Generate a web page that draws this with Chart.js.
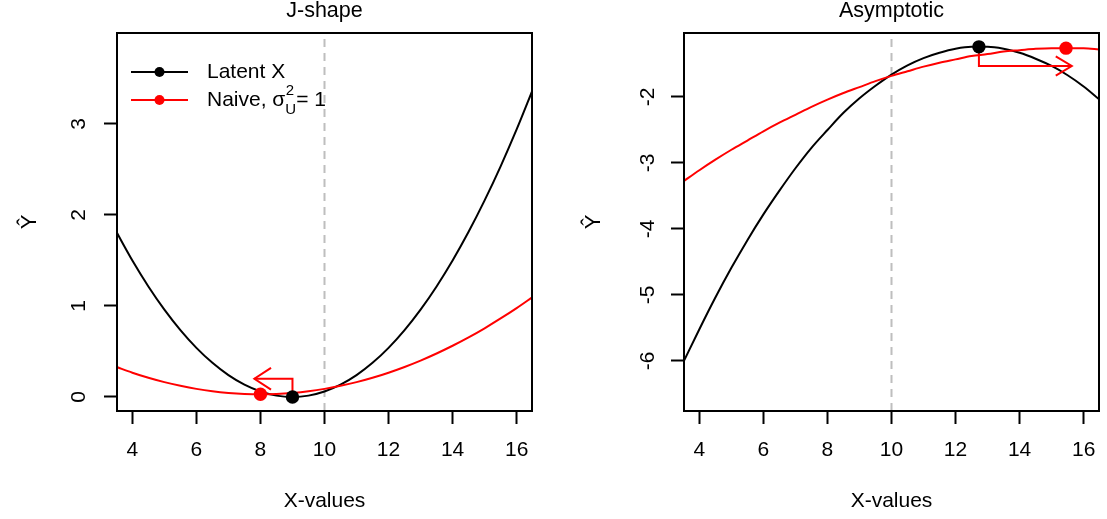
<!DOCTYPE html>
<html>
<head>
<meta charset="utf-8">
<script src="https://cdn.jsdelivr.net/npm/chart.js@4.4.1/dist/chart.umd.min.js"></script>
<style>
  html, body { margin: 0; padding: 0; background: #fff; }
  #wrap { position: relative; width: 1107px; height: 519px; }
  canvas { position: absolute; top: 0; }
  #left { left: 0; }
  #right { left: 553px; }
</style>
</head>
<body>
<div id="wrap">
  <canvas id="left" width="553" height="519"></canvas>
  <canvas id="right" width="554" height="519"></canvas>
</div>
<script>
// ---- shared x axis ----
const xGrid = [3.5, 4, 4.5, 5, 5.5, 6, 6.5, 7, 7.5, 8, 8.5, 9, 9.5, 10, 10.5, 11, 11.5, 12, 12.5, 13, 13.5, 14, 14.5, 15, 15.5, 16, 16.5];
const xTicks = [4, 6, 8, 10, 12, 14, 16];
const xRange = [3.52, 16.48];
const refX = 10;

// ---- J-shape panel ----
const jLatent = [1.815, 1.5, 1.215, 0.96, 0.735, 0.54, 0.375, 0.24, 0.135, 0.06, 0.015, 0, 0.015, 0.06, 0.135, 0.24, 0.375, 0.54, 0.735, 0.96, 1.215, 1.5, 1.815, 2.16, 2.535, 2.94, 3.375];
const jNaive = [0.33, 0.267, 0.211, 0.163, 0.123, 0.089, 0.063, 0.045, 0.034, 0.03, 0.034, 0.045, 0.063, 0.089, 0.123, 0.163, 0.211, 0.267, 0.33, 0.40, 0.478, 0.563, 0.655, 0.755, 0.863, 0.977, 1.099];
const jYTicks = [0, 1, 2, 3];
const jYRange = [-0.154, 4.0];
const jLatentMin = { x: 9, y: 0 };
const jNaiveMin = { x: 8, y: 0.03 };
const jShiftX = [9, 9, 7.81];
const jShiftY = [0, 0.2, 0.2];
const jHeadX = [8.33, 7.81, 8.33];
const jHeadY = [0.32, 0.2, 0.08];

// ---- Asymptotic panel ----
const aLatent = [-6.02, -5.52, -5.04, -4.59, -4.17, -3.78, -3.42, -3.08, -2.77, -2.50, -2.24, -2.02, -1.83, -1.66, -1.52, -1.41, -1.33, -1.27, -1.24, -1.24, -1.27, -1.33, -1.42, -1.53, -1.67, -1.84, -2.04];
const aNaive = [-3.28, -3.11, -2.95, -2.80, -2.66, -2.52, -2.39, -2.27, -2.15, -2.04, -1.94, -1.85, -1.76, -1.68, -1.61, -1.54, -1.48, -1.43, -1.38, -1.35, -1.31, -1.29, -1.27, -1.26, -1.26, -1.26, -1.28];
const aYTicks = [-6, -5, -4, -3, -2];
const aYRange = [-6.76, -1.03];
const aLatentMax = { x: 12.73, y: -1.24 };
const aNaiveMax = { x: 15.45, y: -1.26 };
const aShiftX = [12.73, 12.73, 15.63];
const aShiftY = [-1.24, -1.53, -1.53];
const aHeadX = [15.13, 15.63, 15.13];
const aHeadY = [-1.383, -1.53, -1.677];

const FONT = '"Liberation Sans", Arial, Helvetica, sans-serif';
Chart.defaults.font.family = FONT;
Chart.defaults.color = '#000';

const zip = (xs, ys) => xs.map((x, i) => ({ x: x, y: ys[i] }));

// plot frame around the chart area
const frame = {
  id: 'frame',
  afterDatasetsDraw(chart) {
    const a = chart.chartArea, ctx = chart.ctx;
    ctx.save();
    ctx.strokeStyle = '#000';
    ctx.lineWidth = 2;
    ctx.strokeRect(a.left, a.top, a.right - a.left, a.bottom - a.top);
    ctx.restore();
  }
};

// key in the upper-left corner of the J-shape panel
const keyBox = {
  id: 'keyBox',
  afterDatasetsDraw(chart) {
    const a = chart.chartArea, ctx = chart.ctx;
    const x0 = a.left + 14, x1 = a.left + 71, xm = a.left + 42.5, tx = a.left + 90;
    const rows = [{ y: a.top + 39, c: '#000' }, { y: a.top + 67, c: '#ff0000' }];
    ctx.save();
    rows.forEach(r => {
      ctx.strokeStyle = r.c;
      ctx.lineWidth = 2;
      ctx.beginPath(); ctx.moveTo(x0, r.y); ctx.lineTo(x1, r.y); ctx.stroke();
      ctx.fillStyle = r.c;
      ctx.beginPath(); ctx.arc(xm, r.y, 5, 0, Math.PI * 2); ctx.fill();
    });
    ctx.fillStyle = '#000';
    ctx.textBaseline = 'middle';
    ctx.textAlign = 'left';
    ctx.font = '21px ' + FONT;
    ctx.fillText('Latent X', tx, rows[0].y);
    const y = rows[1].y;
    const head = 'Naive, \u03C3';
    ctx.fillText(head, tx, y);
    let x = tx + ctx.measureText(head).width;
    ctx.font = '15px ' + FONT;
    ctx.fillText('2', x + 0.5, y - 9);
    ctx.fillText('U', x, y + 10);
    x += ctx.measureText('U').width;
    ctx.font = '21px ' + FONT;
    ctx.fillText('= 1', x, y);
    ctx.restore();
  }
};

function panel(id, o) {
  const tickGrid = {
    drawOnChartArea: false, drawTicks: true,
    tickLength: 13, tickWidth: 2, tickColor: '#000'
  };
  return new Chart(document.getElementById(id), {
    type: 'line',
    data: {
      datasets: [
        { data: [o.latentPt], showLine: false, pointRadius: 6.7, pointBackgroundColor: '#000', pointBorderWidth: 0 },
        { data: [o.naivePt], showLine: false, pointRadius: 6.7, pointBackgroundColor: '#ff0000', pointBorderWidth: 0 },
        { data: zip(o.headX, o.headY), borderColor: '#ff0000', borderWidth: 2, pointRadius: 0, tension: 0 },
        { data: zip(o.shiftX, o.shiftY), borderColor: '#ff0000', borderWidth: 2, pointRadius: 0, tension: 0 },
        { data: zip(xGrid, o.naive), borderColor: '#ff0000', borderWidth: 2, pointRadius: 0, cubicInterpolationMode: 'monotone' },
        { data: zip(xGrid, o.latent), borderColor: '#000', borderWidth: 2, pointRadius: 0, cubicInterpolationMode: 'monotone' },
        { data: [{ x: refX, y: o.yRange[0] }, { x: refX, y: o.yRange[1] }], borderColor: '#bebebe', borderWidth: 2, borderDash: [8, 6], pointRadius: 0 }
      ]
    },
    options: {
      responsive: false,
      animation: false,
      devicePixelRatio: 1,
      layout: { padding: { left: 0, right: o.padRight, top: 0, bottom: 0 } },
      plugins: {
        legend: { display: false },
        tooltip: { enabled: false }
      },
      scales: {
        // top axis only carries the panel heading, centred over the plot region
        top: {
          type: 'linear', axis: 'x', position: 'top', min: xRange[0], max: xRange[1],
          afterFit: s => { s.height = 33; s.paddingLeft = 0; s.paddingRight = 0; },
          ticks: { display: false },
          grid: { display: false },
          border: { display: false },
          title: { display: true, text: o.title, color: '#000', font: { size: 21.5, lineHeight: 1 }, padding: { top: 0.5, bottom: 0 } }
        },
        x: {
          type: 'linear', min: xRange[0], max: xRange[1],
          afterBuildTicks: s => { s.ticks = xTicks.map(v => ({ value: v })); },
          afterFit: s => { s.height = 108; s.paddingLeft = 0; s.paddingRight = 0; },
          ticks: { color: '#000', font: { size: 21 }, padding: 13.7, maxRotation: 0, autoSkip: false, callback: v => String(v) },
          grid: tickGrid,
          border: { display: false },
          title: { display: true, text: 'X-values', color: '#000', font: { size: 21 }, padding: { top: 0, bottom: 4.9 } }
        },
        y: {
          type: 'linear', min: o.yRange[0], max: o.yRange[1],
          afterBuildTicks: s => { s.ticks = o.yTicks.map(v => ({ value: v })); },
          afterFit: s => { s.width = o.yWidth; s.paddingTop = 0; s.paddingBottom = 0; },
          ticks: { color: '#000', font: { size: 21 }, padding: o.yTickPad, minRotation: 90, maxRotation: 90, crossAlign: 'center', autoSkip: false, callback: v => String(v) },
          grid: tickGrid,
          border: { display: false },
          title: { display: true, text: '\u0176', color: '#000', font: { size: 22 }, padding: { top: o.yTitlePad, bottom: 0 } }
        }
      }
    },
    plugins: o.plugins
  });
}

panel('left', {
  title: 'J-shape', latent: jLatent, naive: jNaive, yTicks: jYTicks, yRange: jYRange,
  latentPt: jLatentMin, naivePt: jNaiveMin,
  shiftX: jShiftX, shiftY: jShiftY, headX: jHeadX, headY: jHeadY,
  padRight: 21, yWidth: 117, yTickPad: 18.6, yTitlePad: 17,
  plugins: [frame, keyBox]
});

panel('right', {
  title: 'Asymptotic', latent: aLatent, naive: aNaive, yTicks: aYTicks, yRange: aYRange,
  latentPt: aLatentMax, naivePt: aNaiveMax,
  shiftX: aShiftX, shiftY: aShiftY, headX: aHeadX, headY: aHeadY,
  padRight: 8, yWidth: 131, yTickPad: 13.3, yTitlePad: 28,
  plugins: [frame]
});
</script>
</body>
</html>
